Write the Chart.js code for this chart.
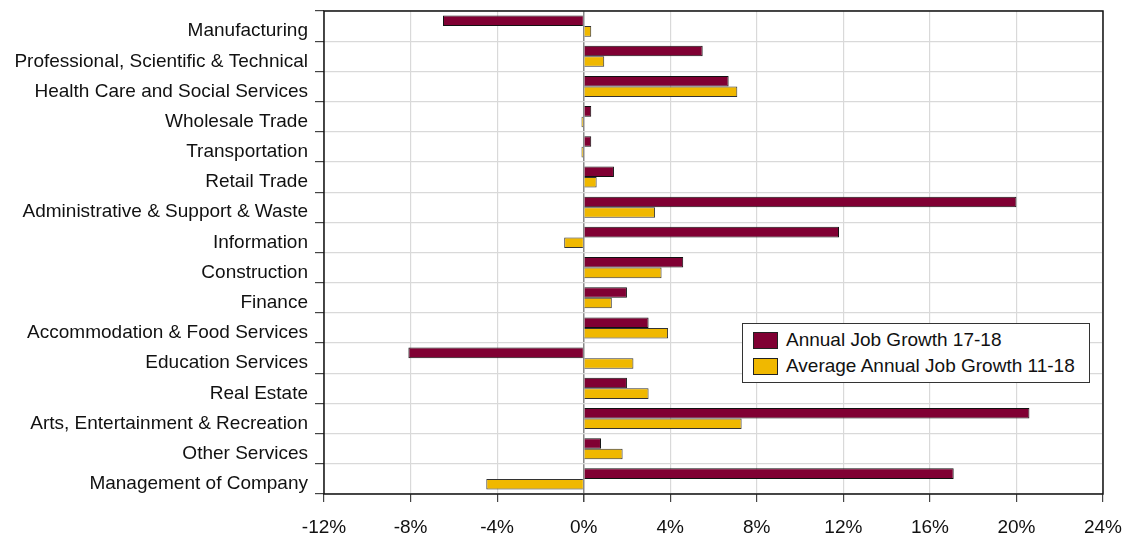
<!DOCTYPE html>
<html>
<head>
<meta charset="utf-8">
<script src="https://cdn.jsdelivr.net/npm/chart.js@4.4.1/dist/chart.umd.min.js"></script>
<style>
  body { margin: 0; background: #fff; }
  #wrap { position: relative; width: 1124px; height: 537px; }
  #legend {
    position: absolute; left: 742px; top: 323px; width: 346px; height: 58px;
    border: 1px solid #333; background: #fff;
    font-family: "Liberation Sans", Arial, sans-serif; font-size: 19px; color: #111;
  }
  #legend .row { position: absolute; left: 10px; height: 20px; display: flex; align-items: center; white-space: nowrap; }
  #legend .sw { display: inline-block; width: 25px; height: 17px; border: 1px solid #222; box-sizing: border-box; margin-right: 8px; }
</style>
</head>
<body>
<div id="wrap">
  <canvas id="barChart" width="1124" height="537"></canvas>
  <div id="legend"></div>
</div>
<script>
// categorias (de arriba hacia abajo)
const categories = [
  'Manufacturing',
  'Professional, Scientific & Technical',
  'Health Care and Social Services',
  'Wholesale Trade',
  'Transportation',
  'Retail Trade',
  'Administrative & Support & Waste',
  'Information',
  'Construction',
  'Finance',
  'Accommodation & Food Services',
  'Education Services',
  'Real Estate',
  'Arts, Entertainment & Recreation',
  'Other Services',
  'Management of Company'
];

// valores en %
const growth1718 = [-6.5, 5.5, 6.7, 0.35, 0.35, 1.4, 20.0, 11.8, 4.6, 2.0, 3.0, -8.1, 2.0, 20.6, 0.8, 17.1];
const avgGrowth1118 = [0.35, 0.95, 7.1, -0.1, -0.1, 0.6, 3.3, -0.9, 3.6, 1.3, 3.9, 2.3, 3.0, 7.3, 1.8, -4.5];

const seriesNames = ['Annual Job Growth 17-18', 'Average Annual Job Growth 11-18'];
const seriesColors = ['#800033', '#f0b800'];

const xTicks = [-12, -8, -4, 0, 4, 8, 12, 16, 20, 24];

const font = { family: '"Liberation Sans", Arial, sans-serif', size: 19 };

// marco del area de la grafica
const frame = {
  id: 'frame',
  afterDraw(chart) {
    const a = chart.chartArea, c = chart.ctx;
    c.save();
    c.strokeStyle = '#111';
    c.lineWidth = 1.5;
    c.strokeRect(a.left, a.top, a.right - a.left, a.bottom - a.top);
    c.restore();
  }
};

const ctx = document.getElementById('barChart').getContext('2d');

const barChart = new Chart(ctx, {
  type: 'bar',
  data: {
    labels: categories,
    datasets: [
      { label: seriesNames[0], data: growth1718, backgroundColor: seriesColors[0], borderColor: '#111', borderWidth: 1 },
      { label: seriesNames[1], data: avgGrowth1118, backgroundColor: seriesColors[1], borderColor: '#333', borderWidth: 1 }
    ]
  },
  options: {
    indexAxis: 'y',
    responsive: false,
    animation: false,
    devicePixelRatio: 1,
    layout: { padding: { left: 8, right: 21, top: 11, bottom: 0 } },
    datasets: { bar: { categoryPercentage: 0.7, barPercentage: 1 } },
    plugins: { legend: { display: false }, tooltip: { enabled: false } },
    scales: {
      x: {
        min: -12, max: 24,
        afterBuildTicks: s => { s.ticks = xTicks.map(v => ({ value: v })); },
        grid: {
          color: c => (c.tick && c.tick.value === 0) ? '#888' : '#d9d9d9',
          lineWidth: c => (c.tick && c.tick.value === 0) ? 1.5 : 1.2,
          tickColor: '#444',
          tickLength: 8
        },
        border: { display: false },
        ticks: { color: '#111', font: font, padding: 14, callback: v => v + '%' },
        afterFit: s => { s.height = 43; s.paddingLeft = 0; s.paddingRight = 0; }
      },
      y: {
        offset: true,
        grid: { offset: true, color: '#d9d9d9', lineWidth: 1.2, tickColor: '#444', tickLength: 9 },
        border: { display: false },
        ticks: { color: '#111', font: font, padding: 7, autoSkip: false, labelOffset: 5 },
        afterFit: s => { s.width = 316; s.paddingTop = 0; s.paddingBottom = 0; }
      }
    }
  },
  plugins: [frame]
});

// leyenda en html
const legend = document.getElementById('legend');
seriesNames.forEach((name, i) => {
  const row = document.createElement('div');
  row.className = 'row';
  row.style.top = (6 + i * 26) + 'px';
  row.innerHTML = '<span class="sw" style="background:' + seriesColors[i] + '"></span>' + name;
  legend.appendChild(row);
});
</script>
</body>
</html>
